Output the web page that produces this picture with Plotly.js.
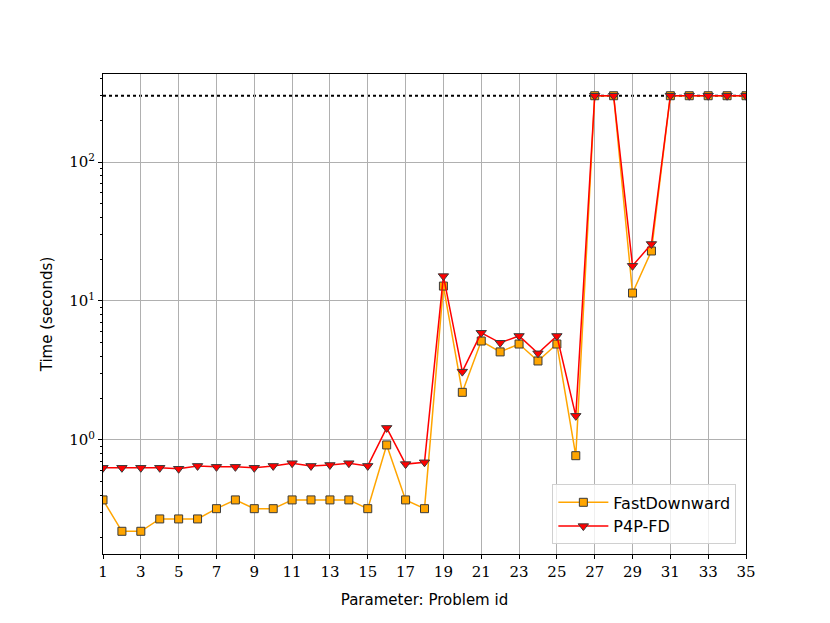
<!DOCTYPE html>
<html>
<head>
<meta charset="utf-8">
<script src="https://cdn.plot.ly/plotly-3.0.1.min.js"></script>
<style>
  html, body { margin: 0; padding: 0; background: #ffffff; }
  #chart { width: 830px; height: 623px; }
</style>
</head>
<body>
<div id="chart"></div>
<script>
// problem ids and runtimes in seconds (300 = timeout)
const problemIds = Array.from({ length: 35 }, (_, i) => i + 1);
const fastDownward = [
  0.37, 0.22, 0.22, 0.27, 0.27, 0.27, 0.32, 0.37, 0.32, 0.32,
  0.37, 0.37, 0.37, 0.37, 0.32, 0.92, 0.37, 0.32, 12.8, 2.2,
  5.15, 4.3, 4.9, 3.7, 4.9, 0.77, 300, 300, 11.4, 22.9,
  300, 300, 300, 300, 300
];
const p4pFd = [
  0.63, 0.63, 0.63, 0.63, 0.62, 0.65, 0.64, 0.64, 0.63, 0.65,
  0.68, 0.65, 0.66, 0.68, 0.65, 1.22, 0.67, 0.69, 15.1, 3.1,
  5.9, 5.0, 5.6, 4.2, 5.6, 1.49, 300, 300, 17.9, 25.7,
  300, 300, 300, 300, 300
];
const timeoutSeconds = 300;
const xTicks = [1, 3, 5, 7, 9, 11, 13, 15, 17, 19, 21, 23, 25, 27, 29, 31, 33, 35];
const yTicks = [1, 10, 100];
const yTickText = ['10<sup>0</sup>', '10<sup>1</sup>', '10<sup>2</sup>'];
const yMinor = [0.2, 0.3, 0.4, 0.5, 0.6, 0.7, 0.8, 0.9,
  2, 3, 4, 5, 6, 7, 8, 9, 20, 30, 40, 50, 60, 70, 80, 90, 200, 300, 400];

const serif = 'DejaVu Serif, Liberation Serif, serif';
const sans = 'DejaVu Sans, Liberation Sans, sans-serif';

const data = [
  {
    type: 'scatter',
    mode: 'lines+markers',
    name: 'FastDownward',
    x: problemIds,
    y: fastDownward,
    line: { color: '#ffa500', width: 1.5 },
    marker: { symbol: 'square', size: 8, color: '#ffa500', line: { color: '#3a3a3a', width: 1 } }
  },
  {
    type: 'scatter',
    mode: 'lines+markers',
    name: 'P4P-FD',
    x: problemIds,
    y: p4pFd,
    line: { color: '#ff0000', width: 1.5 },
    marker: { symbol: 'triangle-down', size: 9, color: '#ff0000', line: { color: '#3a3a3a', width: 1 } }
  }
];

const layout = {
  width: 830,
  height: 623,
  margin: { l: 103, r: 84, t: 74, b: 69 },
  paper_bgcolor: '#ffffff',
  plot_bgcolor: '#ffffff',
  showlegend: true,
  legend: {
    x: 0.985,
    y: 0.02,
    xanchor: 'right',
    yanchor: 'bottom',
    bgcolor: 'rgba(255,255,255,0.8)',
    bordercolor: '#d0d0d0',
    borderwidth: 1,
    itemwidth: 50,
    font: { family: sans, size: 16, color: '#000000' },
    tracegroupgap: 4
  },
  xaxis: {
    range: [1, 35],
    tickmode: 'array',
    tickvals: xTicks,
    ticks: 'outside',
    ticklen: 4,
    tickcolor: '#000000',
    showline: true,
    linecolor: '#000000',
    linewidth: 1,
    mirror: true,
    showgrid: true,
    gridcolor: '#b0b0b0',
    gridwidth: 1,
    zeroline: false,
    tickfont: { family: serif, size: 15, color: '#000000' },
    title: { text: 'Parameter: Problem id', font: { family: sans, size: 15, color: '#000000' }, standoff: 14 }
  },
  yaxis: {
    type: 'log',
    range: [Math.log10(0.151), Math.log10(430)],
    tickmode: 'array',
    tickvals: yTicks,
    ticktext: yTickText,
    ticks: 'outside',
    ticklen: 4,
    tickcolor: '#000000',
    showline: true,
    linecolor: '#000000',
    linewidth: 1,
    mirror: true,
    showgrid: true,
    gridcolor: '#b0b0b0',
    gridwidth: 1,
    zeroline: false,
    tickfont: { family: serif, size: 15, color: '#000000' },
    minor: { tickmode: 'array', tickvals: yMinor, ticks: 'outside', ticklen: 2, tickcolor: '#000000', showgrid: false },
    title: { text: 'Time (seconds)', font: { family: sans, size: 15, color: '#000000' }, standoff: 12 }
  },
  shapes: [
    {
      type: 'line',
      xref: 'paper',
      yref: 'y',
      x0: 0,
      x1: 1,
      y0: timeoutSeconds,
      y1: timeoutSeconds,
      line: { color: '#000000', width: 2, dash: 'dot' },
      layer: 'below'
    }
  ]
};

Plotly.newPlot('chart', data, layout, { displayModeBar: false, staticPlot: true });
</script>
</body>
</html>
